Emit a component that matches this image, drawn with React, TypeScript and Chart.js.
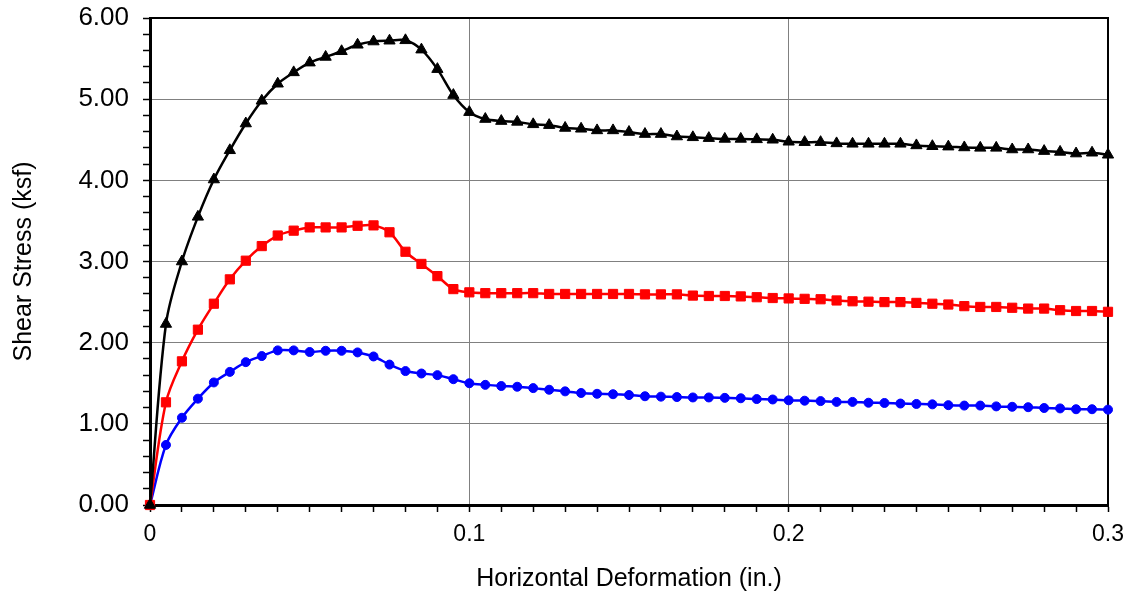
import React, { useEffect, useRef } from "react";
import { Chart, registerables } from "chart.js";

Chart.register(...registerables);

const deformation = [
  0, 0.005, 0.01, 0.015, 0.02, 0.025, 0.03, 0.035, 0.04, 0.045, 0.05,
  0.055, 0.06, 0.065, 0.07, 0.075, 0.08, 0.085, 0.09, 0.095, 0.1,
  0.105, 0.11, 0.115, 0.12, 0.125, 0.13, 0.135, 0.14, 0.145, 0.15,
  0.155, 0.16, 0.165, 0.17, 0.175, 0.18, 0.185, 0.19, 0.195, 0.2,
  0.205, 0.21, 0.215, 0.22, 0.225, 0.23, 0.235, 0.24, 0.245, 0.25,
  0.255, 0.26, 0.265, 0.27, 0.275, 0.28, 0.285, 0.29, 0.295, 0.3,
];

const stressHigh = [
  0, 2.23, 3.0, 3.55, 4.01, 4.37, 4.7, 4.98, 5.19, 5.33, 5.45,
  5.52, 5.59, 5.67, 5.71, 5.72, 5.725, 5.61, 5.37, 5.05, 4.84,
  4.755, 4.73, 4.72, 4.69, 4.68, 4.645, 4.635, 4.615, 4.615, 4.595,
  4.57, 4.57, 4.54, 4.53, 4.52, 4.51, 4.51, 4.505, 4.5, 4.475,
  4.47, 4.47, 4.455, 4.45, 4.45, 4.45, 4.45, 4.43, 4.42, 4.415,
  4.405, 4.4, 4.4, 4.38, 4.38, 4.36, 4.35, 4.33, 4.34, 4.315,
];

const stressMid = [
  0, 1.265, 1.77, 2.16, 2.48, 2.78, 3.01, 3.19, 3.32, 3.38, 3.42,
  3.42, 3.42, 3.44, 3.445, 3.36, 3.12, 2.97, 2.82, 2.66, 2.62,
  2.61, 2.61, 2.61, 2.61, 2.6, 2.6, 2.6, 2.6, 2.6, 2.6,
  2.595, 2.595, 2.595, 2.58, 2.575, 2.575, 2.57, 2.56, 2.55, 2.545,
  2.54, 2.535, 2.52, 2.51, 2.505, 2.5, 2.5, 2.49, 2.48, 2.47,
  2.45, 2.44, 2.44, 2.43, 2.42, 2.42, 2.4, 2.39, 2.39, 2.38,
];

const stressLow = [
  0, 0.74, 1.075, 1.31, 1.51, 1.64, 1.76, 1.835, 1.905, 1.905, 1.885,
  1.9, 1.9, 1.88, 1.83, 1.73, 1.65, 1.62, 1.6, 1.55, 1.5,
  1.48, 1.466, 1.457, 1.44, 1.42, 1.4, 1.38, 1.37, 1.365, 1.355,
  1.34, 1.335, 1.33, 1.325, 1.325, 1.32, 1.315, 1.305, 1.3, 1.29,
  1.285, 1.28, 1.27, 1.27, 1.26, 1.257, 1.25, 1.245, 1.24, 1.23,
  1.225, 1.225, 1.215, 1.21, 1.205, 1.195, 1.19, 1.18, 1.18, 1.175,
];

const xTickLabels = ["0", "0.1", "0.2", "0.3"];
const yTickLabels = ["0.00", "1.00", "2.00", "3.00", "4.00", "5.00", "6.00"];

const FONT = "'Liberation Sans', Arial, sans-serif";

const toPoints = (ys: number[]) => ys.map((y, i) => ({ x: deformation[i], y }));

const isMult = (v: number, step: number) => Math.abs(v / step - Math.round(v / step)) < 1e-6;

const frame = {
  id: "frame",
  beforeDatasetsDraw(chart: any) {
    const { ctx, chartArea } = chart;
    ctx.save();
    ctx.strokeStyle = "#000";
    ctx.lineWidth = 2;
    ctx.beginPath();
    ctx.moveTo(chartArea.left, chartArea.top);
    ctx.lineTo(chartArea.right, chartArea.top);
    ctx.lineTo(chartArea.right, chartArea.bottom);
    ctx.stroke();
    ctx.restore();
  },
};

export default function App() {
  const ref = useRef<HTMLCanvasElement | null>(null);

  useEffect(() => {
    if (!ref.current) return;
    const common = {
      borderWidth: 2.5,
      pointBorderWidth: 1,
      tension: 0.33,
      clip: false as any,
    };
    const chart = new Chart(ref.current, {
      type: "line",
      data: {
        datasets: [
          {
            ...common,
            label: "High",
            data: toPoints(stressHigh),
            borderColor: "#000000",
            backgroundColor: "#000000",
            pointBackgroundColor: "#000000",
            pointBorderColor: "#000000",
            pointStyle: "triangle",
            pointRadius: 6.5,
          },
          {
            ...common,
            label: "Mid",
            data: toPoints(stressMid),
            borderColor: "#ff0000",
            backgroundColor: "#ff0000",
            pointBackgroundColor: "#ff0000",
            pointBorderColor: "#ff0000",
            pointStyle: "rect",
            pointRadius: 6.5,
          },
          {
            ...common,
            label: "Low",
            data: toPoints(stressLow),
            borderColor: "#0000ff",
            backgroundColor: "#0000ff",
            pointBackgroundColor: "#0000ff",
            pointBorderColor: "#0000ff",
            pointStyle: "circle",
            pointRadius: 4.5,
          },
        ],
      },
      options: {
        animation: false,
        responsive: false,
        devicePixelRatio: 1,
        layout: { padding: { top: 18, right: 22, left: 0, bottom: 0 } },
        plugins: {
          legend: { display: false },
          tooltip: { enabled: false },
        },
        elements: { point: { hoverRadius: 0 } },
        scales: {
          x: {
            type: "linear",
            min: 0,
            max: 0.3,
            afterFit: (s: any) => {
              s.height = 97;
              s.paddingLeft = 0;
              s.paddingRight = 0;
            },
            ticks: {
              stepSize: 0.01,
              maxTicksLimit: 100,
              autoSkip: false,
              maxRotation: 0,
              padding: 9,
              color: "#000",
              font: { family: FONT, size: 23 },
              callback: (v: any) => {
                const n = Number(v);
                if (!isMult(n, 0.1)) return "";
                return xTickLabels[Math.round(n / 0.1)] ?? "";
              },
            },
            grid: {
              color: (c: any) => {
                const v = c.tick ? c.tick.value : 0;
                return isMult(v, 0.1) && v > 0.001 && v < 0.299 ? "#808080" : "rgba(0,0,0,0)";
              },
              lineWidth: 1,
              tickColor: "#000",
              tickLength: 7,
              tickWidth: 1.5,
            },
            border: { display: true, color: "#000", width: 3 },
            title: {
              display: true,
              text: "Horizontal Deformation (in.)",
              color: "#000",
              font: { family: FONT, size: 25 },
              padding: { top: 0, bottom: 8 },
            },
          },
          y: {
            type: "linear",
            min: 0,
            max: 6,
            afterFit: (s: any) => {
              s.width = 150;
              s.paddingTop = 0;
              s.paddingBottom = 0;
            },
            ticks: {
              stepSize: 0.2,
              maxTicksLimit: 100,
              autoSkip: false,
              padding: 14,
              color: "#000",
              font: { family: FONT, size: 26 },
              callback: (v: any) => {
                const n = Number(v);
                if (!isMult(n, 1)) return "";
                return yTickLabels[Math.round(n)] ?? "";
              },
            },
            grid: {
              color: (c: any) => {
                const v = c.tick ? c.tick.value : 0;
                return isMult(v, 1) && v > 0.01 && v < 5.99 ? "#808080" : "rgba(0,0,0,0)";
              },
              lineWidth: 1,
              tickColor: "#000",
              tickLength: 7,
              tickWidth: 1.5,
            },
            border: { display: true, color: "#000", width: 3 },
            title: {
              display: true,
              text: "Shear Stress (ksf)",
              color: "#000",
              font: { family: FONT, size: 25 },
              padding: { top: 9, bottom: 0 },
            },
          },
        },
      },
      plugins: [frame],
    } as any);
    return () => chart.destroy();
  }, []);

  return (
    <div style={{ position: "fixed", left: 0, top: 0, width: 1130, height: 602, background: "#fff" }}>
      <canvas ref={ref} width={1130} height={602} />
    </div>
  );
}
